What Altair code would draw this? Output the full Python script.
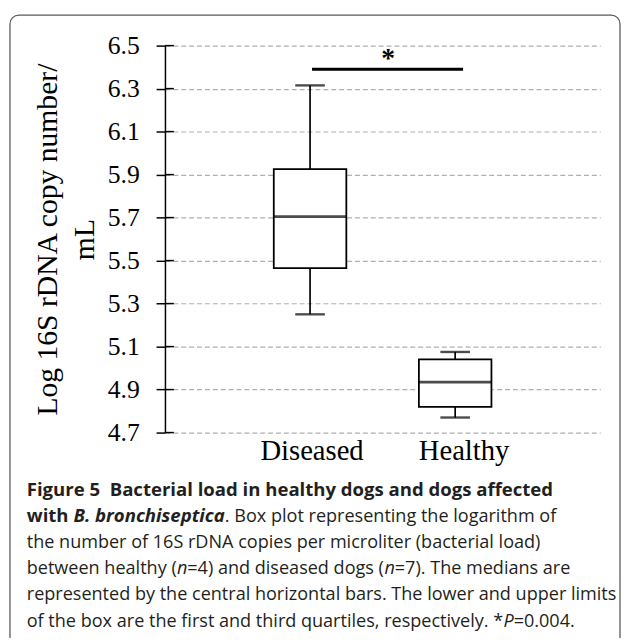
import glob
import os
import struct

import altair as alt
import pandas as pd

# ---- data ----
groups = ["Diseased", "Healthy"]
whisker_low = [5.25, 4.77]
q1 = [5.465, 4.82]
median = [5.705, 4.935]
q3 = [5.925, 5.04]
whisker_high = [6.315, 5.075]
label_shift = [2, 9]   # small horizontal nudges of the category labels (px)

tick_values = [4.7, 4.9, 5.1, 5.3, 5.5, 5.7, 5.9, 6.1, 6.3, 6.5]
y_title = ["Log 16S rDNA copy number/", "mL"]
sig_from = ["Diseased"]
sig_to = ["Healthy"]
sig_y = [6.39]
star_y = [6.40]
star_text = "*"

# caption: each line is a list of (text, weight, style) runs
caption = [
    [("Figure 5\u00a0\u00a0Bacterial load in healthy dogs and dogs affected", "bold", "normal")],
    [("with ", "bold", "normal"), ("B. bronchiseptica", "bold", "italic"),
     (". Box plot representing the logarithm of", "normal", "normal")],
    [("the number of 16S rDNA copies per microliter (bacterial load)", "normal", "normal")],
    [("between healthy (", "normal", "normal"), ("n", "normal", "italic"),
     ("=4) and diseased dogs (", "normal", "normal"), ("n", "normal", "italic"),
     ("=7). The medians are", "normal", "normal")],
    [("represented by the central horizontal bars. The lower and upper limits", "normal", "normal")],
    [("of the box are the first and third quartiles, respectively. *", "normal", "normal"),
     ("P", "normal", "italic"), ("=0.004.", "normal", "normal")],
]

SERIF = "Liberation Serif"
SANS = "Open Sans"
SIZE_NORMAL = 18.3
SIZE_BOLD = 18.8

W, H = 441, 392


# ---------- text measuring (for placing mixed-style runs side by side) ----------
def _u16(d, o):
    return struct.unpack(">H", d[o:o + 2])[0]


def _load_font(path):
    with open(path, "rb") as f:
        d = f.read()
    n = _u16(d, 4)
    tabs = {}
    for i in range(n):
        tag, _cs, off, ln = struct.unpack(">4sIII", d[12 + 16 * i:28 + 16 * i])
        tabs[tag.decode("latin1")] = off
    upem = _u16(d, tabs["head"] + 18)
    nh = _u16(d, tabs["hhea"] + 34)
    adv = [_u16(d, tabs["hmtx"] + 4 * i) for i in range(nh)]
    c = tabs["cmap"]
    sub = None
    for i in range(_u16(d, c + 2)):
        pid, eid, so = struct.unpack(">HHI", d[c + 4 + 8 * i:c + 12 + 8 * i])
        if pid == 3 and eid == 1 and _u16(d, c + so) == 4:
            sub = c + so
            break
    if sub is None:
        return None
    segx2 = _u16(d, sub + 6)
    ends = sub + 14
    starts = ends + segx2 + 2
    deltas = starts + segx2
    roffs = deltas + segx2
    nseg = segx2 // 2

    def gid(ch):
        for s in range(nseg):
            if ch <= _u16(d, ends + 2 * s):
                st = _u16(d, starts + 2 * s)
                if ch < st:
                    return 0
                delta = _u16(d, deltas + 2 * s)
                ro = _u16(d, roffs + 2 * s)
                if ro == 0:
                    return (ch + delta) & 0xFFFF
                g = _u16(d, roffs + 2 * s + ro + 2 * (ch - st))
                return (g + delta) & 0xFFFF if g else 0
        return 0

    def width(text):
        tot = 0.0
        for chx in text:
            cp = 0x20 if chx == "\u00a0" else ord(chx)
            g = gid(cp)
            if g == 0:
                tot += 0.55
            else:
                tot += adv[min(g, nh - 1)] / upem
        return tot

    return width


_FALLBACK = {
    " ": .26, "\u00a0": .26, "a": .556, "b": .613, "c": .48, "d": .613, "e": .561,
    "f": .336, "g": .546, "h": .614, "i": .253, "j": .253, "k": .525, "l": .253, "m": .932,
    "n": .614, "o": .602, "p": .613, "q": .613, "r": .409, "s": .478, "t": .353, "u": .614,
    "v": .501, "w": .778, "x": .524, "y": .501, "z": .463, "A": .633, "B": .647, "C": .631,
    "D": .729, "F": .516, "N": .754, "P": .603, "S": .549, "T": .553, "(": .296, ")": .296,
    ".": .267, "=": .572, "*": .551,
}


def _fallback_width(text):
    return sum(_FALLBACK.get(c, .572 if c.isdigit() else .55) for c in text)


def _find_fonts():
    found = {}
    dirs = ["/usr/share/fonts", "/usr/local/share/fonts", os.path.expanduser("~/.fonts"),
            os.path.expanduser("~/.local/share/fonts")]
    for dd in dirs:
        for p in glob.glob(os.path.join(dd, "**", "*"), recursive=True):
            b = os.path.basename(p).lower()
            if not b.endswith((".ttf", ".otf")) or not b.startswith("opensans"):
                continue
            key = b.rsplit(".", 1)[0]
            found[key] = p
    return found


_measure = {}
try:
    _files = _find_fonts()
    for (w, s), names in {
        ("normal", "normal"): ["opensans-regular"],
        ("bold", "normal"): ["opensans-bold"],
        ("normal", "italic"): ["opensans-italic"],
        ("bold", "italic"): ["opensans-bolditalic"],
    }.items():
        for nm in names:
            if nm in _files:
                fn = _load_font(_files[nm])
                if fn:
                    _measure[(w, s)] = fn
                    break
    if ("normal", "normal") not in _measure:
        for k, p in _files.items():
            if "italic" not in k:
                fn = _load_font(p)
                if fn:
                    _measure[("normal", "normal")] = fn
                    break
except Exception:
    _measure = {}


def text_width(text, weight, style, size):
    fn = _measure.get((weight, style))
    factor = 1.0
    if fn is None:
        fn = _measure.get(("normal", "normal"), _fallback_width)
        factor = (1.06 if weight == "bold" else 1.0) * (0.97 if style == "italic" else 1.0)
    return fn(text) * size * factor


# ---------- chart ----------
df = pd.DataFrame({
    "group": groups,
    "wlo": whisker_low,
    "q1": q1,
    "med": median,
    "q3": q3,
    "whi": whisker_high,
    "shift": label_shift,
})
ticks_df = pd.DataFrame({"v": tick_values})
sig_df = pd.DataFrame({"group": sig_from, "b": sig_to, "y": sig_y, "sy": star_y})
one = pd.DataFrame({"k": [0]})

xscale = alt.Scale(domain=groups, paddingInner=0, paddingOuter=0.5)
yscale = alt.Scale(domain=[4.7, 6.5], nice=False, zero=False)

y_axis = alt.Axis(
    values=tick_values, format=".1f", title=y_title,
    titleFont=SERIF, titleFontSize=30, titleFontWeight="normal", titleColor="black",
    titleAngle=270, titleAlign="center", titleBaseline="alphabetic",
    titleLineHeight=38, titleX=-110, titleY=H / 2,
    labelFont=SERIF, labelFontSize=26, labelColor="black", labelPadding=17,
    tickSize=9, tickWidth=1.5, tickColor="black",
    domainColor="black", domainWidth=1.5,
    grid=True, gridColor="#b0b0b0", gridDash=[5, 3], gridWidth=1.2,
)


def X(field="group"):
    return alt.X(f"{field}:N", scale=xscale, sort=groups, axis=None, title=None)


def Y(field):
    return alt.Y(f"{field}:Q", scale=yscale, axis=y_axis, title=y_title)


base = alt.Chart(df)

box = base.mark_bar(width=alt.RelativeBandSize(0.5), fill="white", stroke="black",
                    strokeWidth=1.8).encode(x=X(), y=Y("q1"), y2="q3:Q")

upper = base.mark_rule(color="black", strokeWidth=1.7).encode(x=X(), y=Y("q3"), y2="whi:Q")
lower = base.mark_rule(color="black", strokeWidth=1.7).encode(x=X(), y=Y("wlo"), y2="q1:Q")

cap_hi = base.mark_tick(size=30, thickness=2.4, color="black").encode(x=X(), y=Y("whi"))
cap_lo = base.mark_tick(size=30, thickness=2.4, color="black").encode(x=X(), y=Y("wlo"))
med = base.mark_tick(size=74, thickness=2.8, color="black").encode(x=X(), y=Y("med"))

# category labels (drawn as text so each can carry its own small nudge)
cat_labels = []
for g, sh in zip(groups, label_shift):
    cat_labels.append(
        base.transform_filter(alt.datum.group == g).mark_text(
            font=SERIF, fontSize=29, color="black", baseline="alphabetic", align="center", dx=sh,
        ).encode(x=X(), y=alt.value(H + 28), text="group:N")
    )

inner_ticks = alt.Chart(ticks_df).mark_rule(color="black", strokeWidth=1.5).encode(
    y=Y("v"), x=alt.value(0), x2=alt.value(9),
)

sig = alt.Chart(sig_df).mark_rule(color="black", strokeWidth=3, xOffset=2, x2Offset=8).encode(
    x=X(), x2="b:N", y=Y("y"),
)
star = alt.Chart(sig_df).mark_text(text=star_text, font=SERIF, fontSize=28,
                                   fontWeight="bold", dx=79, baseline="alphabetic",
                                   color="black").encode(x=X(), y=Y("sy"))

border = alt.Chart(one).mark_rect(filled=False, stroke="#5a5a5a", strokeWidth=1.3,
                                  cornerRadius=9).encode(
    x=alt.value(-157), x2=alt.value(461), y=alt.value(-31), y2=alt.value(640),
)

CAP_X0 = -140
CAP_Y0 = 456
CAP_DY = 26.5
caption_layers = []
for li, runs in enumerate(caption):
    cx = CAP_X0
    for text, weight, style in runs:
        size = SIZE_BOLD if weight == "bold" else SIZE_NORMAL
        shown = text
        lead = len(shown) - len(shown.lstrip(" "))
        trail = len(shown) - len(shown.rstrip(" "))
        shown = "\u00a0" * lead + shown.strip(" ") + "\u00a0" * trail
        caption_layers.append(
            alt.Chart(one).mark_text(
                text=shown, font=SANS, fontSize=size, fontWeight=weight, fontStyle=style,
                align="left", baseline="alphabetic", color="#231f20",
            ).encode(x=alt.value(round(cx, 2)), y=alt.value(CAP_Y0 + li * CAP_DY))
        )
        cx += text_width(shown, weight, style, size)

chart = alt.layer(
    border, box, upper, lower, cap_hi, cap_lo, med, *cat_labels, inner_ticks, sig, star,
    *caption_layers,
).properties(
    width=W, height=H,
    background="white",
    autosize=alt.AutoSizeParams(type="none"),
    padding={"left": 159, "top": 34, "right": 21, "bottom": 204},
).configure_view(stroke=None)

chart.save("out.html", embed_options={"renderer": "svg", "actions": False})
